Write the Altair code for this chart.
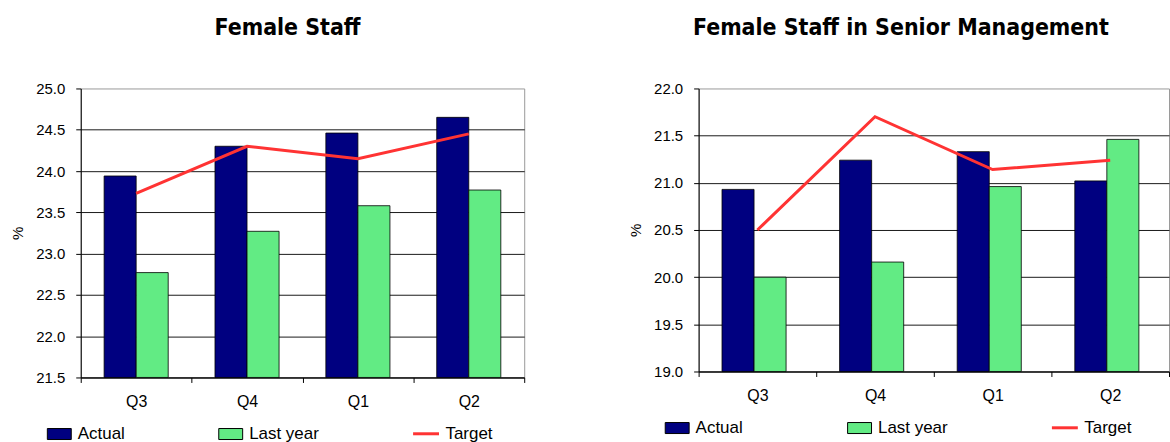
import altair as alt
import pandas as pd

# Quarters shown on the category axis, in display order
quarters = ["Q3", "Q4", "Q1", "Q2"]
bar_series = ["Actual", "Last year"]

# Female staff (% of all staff)
staff_actual = [23.94, 24.30, 24.46, 24.65]
staff_last_year = [22.77, 23.27, 23.58, 23.77]
staff_target = [23.73, 24.30, 24.15, 24.45]

# Female staff in senior management (%)
senior_actual = [20.93, 21.24, 21.33, 21.02]
senior_last_year = [20.00, 20.16, 20.96, 21.46]
senior_target = [20.50, 21.70, 21.14, 21.24]

NAVY = "#000080"
GREEN = "#62EB84"
RED = "#FF3333"
FONT = "Liberation Sans"


def panel(title, actual, last_year, target, lo, hi, width, height,
          title_dx, lx_bar, lx_line, ly, col_pad):
    bars = pd.DataFrame({
        "quarter": quarters * 2,
        "series": ["Actual"] * len(quarters) + ["Last year"] * len(quarters),
        "value": actual + last_year,
    })
    line = pd.DataFrame({
        "quarter": quarters,
        "series": ["Target"] * len(quarters),
        "value": target,
    })
    steps = int(round((hi - lo) / 0.5))
    ticks = [round(lo + 0.5 * i, 1) for i in range(steps + 1)]

    x = alt.X(
        "quarter:N", sort=quarters, title=None,
        scale=alt.Scale(paddingInner=0, paddingOuter=0),
        axis=alt.Axis(
            tickBand="extent", labelAngle=0, labelFont=FONT, labelFontSize=16,
            labelColor="black", labelPadding=11, tickColor="black", tickSize=5,
            domainColor="black", grid=False,
        ),
    )
    y_scale = alt.Scale(domain=[lo, hi], nice=False, zero=False)

    bar_layer = alt.Chart(bars).mark_bar(stroke="black", strokeWidth=0.8).encode(
        x=x,
        xOffset=alt.XOffset(
            "series:N", sort=bar_series,
            scale=alt.Scale(paddingInner=0, paddingOuter=0.73),
        ),
        y=alt.Y(
            "value:Q", scale=y_scale, title="%",
            axis=alt.Axis(
                values=ticks, format=".1f", grid=False, labelFont=FONT,
                labelFontSize=15, labelColor="black", labelPadding=11,
                tickColor="black", tickSize=5, domainColor="black",
                titleFont=FONT, titleFontSize=15, titleFontWeight="normal",
                titleColor="black", titlePadding=10,
            ),
        ),
        y2=alt.Y2(datum=lo),
        fill=alt.Fill(
            "series:N",
            scale=alt.Scale(domain=bar_series, range=[NAVY, GREEN]),
            legend=alt.Legend(
                title=None, orient="none", legendX=lx_bar, legendY=ly,
                direction="horizontal", columnPadding=col_pad,
                symbolType="M-1,-0.46H1V0.46H-1Z", symbolSize=576,
                symbolStrokeColor="black", symbolStrokeWidth=1,
                labelFont=FONT, labelFontSize=17, labelColor="black",
                labelOffset=6,
            ),
        ),
    )

    line_layer = alt.Chart(line).mark_line(strokeWidth=3).encode(
        x=alt.X("quarter:N", sort=quarters),
        y=alt.Y(
            "value:Q", scale=y_scale,
            axis=alt.Axis(
                orient="right", values=ticks[:-1], grid=True,
                gridColor="#1a1a1a", gridWidth=1, labels=False, ticks=False,
                domain=False, title=None,
            ),
        ),
        stroke=alt.Stroke(
            "series:N",
            scale=alt.Scale(domain=["Target"], range=[RED]),
            legend=alt.Legend(
                title=None, orient="none", legendX=lx_line, legendY=ly - 2,
                symbolType="stroke", symbolSize=676, symbolStrokeWidth=3,
                labelFont=FONT, labelFontSize=17, labelColor="black",
                labelOffset=5,
            ),
        ),
    )

    return (
        alt.layer(bar_layer, line_layer)
        .resolve_axis(y="independent")
        .properties(
            width=width, height=height,
            title=alt.TitleParams(
                title, font="DejaVu Sans Condensed", fontWeight="bold",
                fontSize=23, color="black", anchor="middle", dx=title_dx,
                offset=42,
            ),
        )
    )


left = panel("Female Staff", staff_actual, staff_last_year, staff_target,
             21.5, 25.0, 445, 290, -15, -34, 332, 334, 91)
right = panel("Female Staff in Senior Management", senior_actual,
              senior_last_year, senior_target, 19.0, 22.0, 472, 284, -33,
              -34, 353, 328, 102)

chart = (
    alt.hconcat(left, right, spacing=103)
    .resolve_scale(fill="independent", stroke="independent")
    .resolve_legend(fill="independent", stroke="independent")
    .properties(padding={"left": 10, "top": 15, "right": 0, "bottom": 0},
                background="white")
    .configure_view(stroke="#9a9a9a", strokeWidth=1)
)

chart.save("out.html", embed_options={"renderer": "svg", "actions": False})
